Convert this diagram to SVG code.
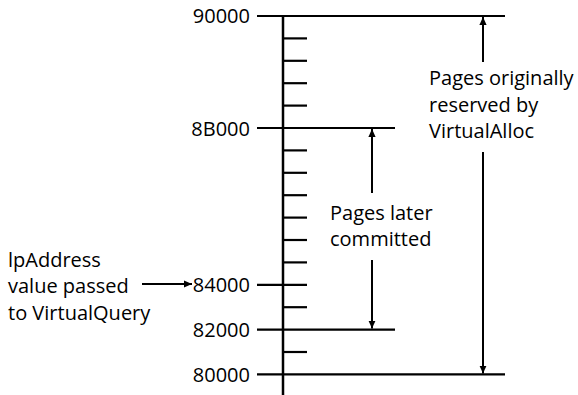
<svg xmlns="http://www.w3.org/2000/svg" width="578" height="395" viewBox="0 0 578 395">
<style>
  text { font-family: "Open Sans", "Noto Sans", "DejaVu Sans", sans-serif; font-size: 20px; fill: #000; }
  .addr { text-anchor: end; }
  .ln { stroke: #000; stroke-width: 2.2; fill: none; }
  .ax { stroke: #000; stroke-width: 2.5; fill: none; }
  .arr { stroke: #000; stroke-width: 2; fill: none; }
</style>
<defs>
  <marker id="ah" viewBox="0 0 10 10" refX="10" refY="5" markerWidth="8" markerHeight="8" markerUnits="userSpaceOnUse" orient="auto">
    <path d="M0,0.5 L10,5 L0,9.5 Z" fill="#000"/>
  </marker>
</defs>
<g id="scale">
  <line class="ax" x1="283" y1="15" x2="283" y2="395"/>
  <line class="ln" x1="257" y1="16" x2="505" y2="16"/>
  <line class="ln" x1="283" y1="38.4" x2="307" y2="38.4"/>
  <line class="ln" x1="283" y1="60.8" x2="307" y2="60.8"/>
  <line class="ln" x1="283" y1="83.2" x2="307" y2="83.2"/>
  <line class="ln" x1="283" y1="105.6" x2="307" y2="105.6"/>
  <line class="ln" x1="257" y1="128" x2="395" y2="128"/>
  <line class="ln" x1="283" y1="150.4" x2="307" y2="150.4"/>
  <line class="ln" x1="283" y1="172.8" x2="307" y2="172.8"/>
  <line class="ln" x1="283" y1="195.2" x2="307" y2="195.2"/>
  <line class="ln" x1="283" y1="217.6" x2="307" y2="217.6"/>
  <line class="ln" x1="283" y1="240" x2="307" y2="240"/>
  <line class="ln" x1="283" y1="262.4" x2="307" y2="262.4"/>
  <line class="ln" x1="257" y1="284.8" x2="307" y2="284.8"/>
  <line class="ln" x1="283" y1="307.2" x2="307" y2="307.2"/>
  <line class="ln" x1="257" y1="329.6" x2="395" y2="329.6"/>
  <line class="ln" x1="283" y1="352" x2="307" y2="352"/>
  <line class="ln" x1="257" y1="374.4" x2="505" y2="374.4"/>
  <text class="addr" x="250" y="23">90000</text>
  <text class="addr" x="250" y="135.5">8B000</text>
  <text class="addr" x="250" y="292">84000</text>
  <text class="addr" x="250" y="337">82000</text>
  <text class="addr" x="250" y="382">80000</text>
</g>
<g id="connectors">
  <line class="arr" x1="483" y1="62" x2="483" y2="17" marker-end="url(#ah)"/>
  <line class="arr" x1="483" y1="152" x2="483" y2="373.5" marker-end="url(#ah)"/>
  <line class="arr" x1="372" y1="193" x2="372" y2="129" marker-end="url(#ah)"/>
  <line class="arr" x1="372" y1="260" x2="372" y2="328.5" marker-end="url(#ah)"/>
  <line class="arr" x1="142" y1="284" x2="192" y2="284" marker-end="url(#ah)"/>
</g>
<g id="reserved-label">
  <text x="429" y="85">Pages originally</text>
  <text x="429" y="111.5">reserved by</text>
  <text x="429" y="138">VirtualAlloc</text>
</g>
<g id="committed-label">
  <text x="330" y="220">Pages later</text>
  <text x="330" y="246">committed</text>
</g>
<g id="query-label">
  <text x="8" y="267">lpAddress</text>
  <text x="8" y="293">value passed</text>
  <text x="8" y="320">to VirtualQuery</text>
</g>
</svg>
